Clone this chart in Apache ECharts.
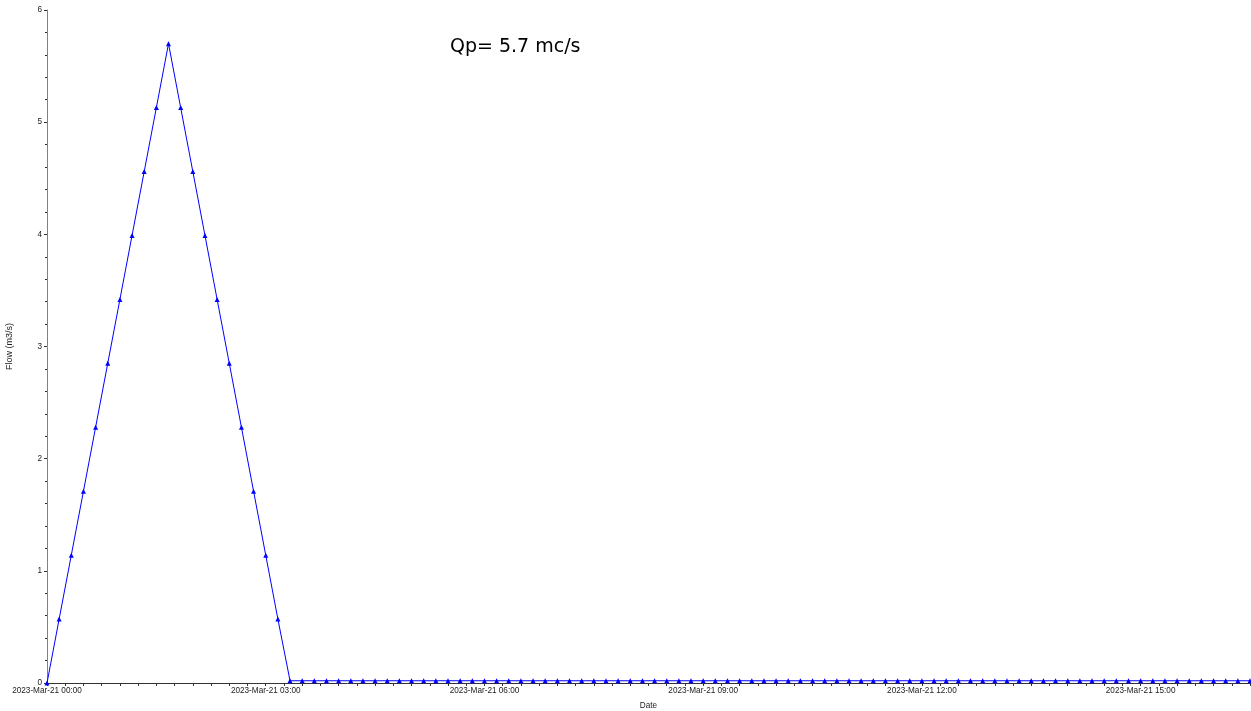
<!DOCTYPE html>
<html>
<head>
<meta charset="utf-8">
<script src="https://cdn.jsdelivr.net/npm/echarts@6/dist/echarts.min.js"></script>
<style>
  html, body { margin: 0; padding: 0; background: #ffffff; }
  #chart { width: 1251px; height: 711px; }
</style>
</head>
<body>
<div id="chart"></div>
<script>
// ---- data ----
const datePrefix = '2023-Mar-21';
const stepMinutes = 10;          // time step of the hydrograph
const axisMaxMinutes = 990;      // 16:30
const labelEveryMinutes = 180;   // 3 hours
const tickEveryMinutes = 15;
const flow = [
  0, 0.57, 1.14, 1.71, 2.28, 2.85, 3.42, 3.99, 4.56, 5.13,
  5.7, 5.13, 4.56, 3.99, 3.42, 2.85, 2.28, 1.71, 1.14, 0.57,
  0.02, 0.02, 0.02, 0.02, 0.02, 0.02, 0.02, 0.02, 0.02, 0.02,
  0.02, 0.02, 0.02, 0.02, 0.02, 0.02, 0.02, 0.02, 0.02, 0.02,
  0.02, 0.02, 0.02, 0.02, 0.02, 0.02, 0.02, 0.02, 0.02, 0.02,
  0.02, 0.02, 0.02, 0.02, 0.02, 0.02, 0.02, 0.02, 0.02, 0.02,
  0.02, 0.02, 0.02, 0.02, 0.02, 0.02, 0.02, 0.02, 0.02, 0.02,
  0.02, 0.02, 0.02, 0.02, 0.02, 0.02, 0.02, 0.02, 0.02, 0.02,
  0.02, 0.02, 0.02, 0.02, 0.02, 0.02, 0.02, 0.02, 0.02, 0.02,
  0.02, 0.02, 0.02, 0.02, 0.02, 0.02, 0.02, 0.02, 0.02, 0.02
];
const annotation = 'Qp= 5.7 mc/s';
const xName = 'Date';
const yName = 'Flow (m3/s)';

// ---- chart ----
const seriesData = flow.map((v, i) => [i * stepMinutes, v]);
function fmtTime(m) {
  const h = Math.floor(m / 60), mm = m % 60;
  return datePrefix + ' ' + String(h).padStart(2, '0') + ':' + String(mm).padStart(2, '0');
}
const chart = echarts.init(document.getElementById('chart'), null, { renderer: 'canvas' });
const labelFont = { fontFamily: 'Liberation Sans, Arial, sans-serif', fontSize: 8.2, color: '#222' };
const nameFont = { fontFamily: 'Liberation Sans, Arial, sans-serif', fontSize: 9, color: '#222' };
chart.setOption({
  animation: false,
  backgroundColor: '#ffffff',
  grid: { left: 47, right: 1, top: 10, bottom: 28, containLabel: false, outerBoundsMode: 'none' },
  xAxis: {
    type: 'value',
    min: 0, max: axisMaxMinutes, interval: tickEveryMinutes,
    name: xName, nameLocation: 'middle', nameGap: 19,
    nameTextStyle: { ...nameFont, fontSize: 8.2 },
    axisLine: { show: true, onZero: false, lineStyle: { color: '#333', width: 1 } },
    axisTick: { show: true, length: 3, lineStyle: { color: '#333' } },
    axisLabel: {
      ...labelFont, margin: 4,
      formatter: v => (v % labelEveryMinutes === 0 && v < axisMaxMinutes) ? fmtTime(v) : ''
    },
    splitLine: { show: false }
  },
  yAxis: {
    type: 'value',
    min: 0, max: 6, interval: 1,
    name: yName, nameLocation: 'middle', nameGap: 33, nameRotate: 90,
    nameTextStyle: nameFont,
    axisLine: { show: true, lineStyle: { color: '#808080', width: 1 } },
    axisTick: { show: true, length: 3, lineStyle: { color: '#333' } },
    minorTick: { show: true, splitNumber: 5, length: 2, lineStyle: { color: '#333' } },
    axisLabel: { ...labelFont, margin: 5 },
    splitLine: { show: false }
  },
  series: [{
    type: 'line',
    data: seriesData,
    symbol: 'triangle',
    symbolSize: 5,
    showAllSymbol: true,
    lineStyle: { color: '#0000ff', width: 1 },
    itemStyle: { color: '#0000ff' },
    clip: false
  }],
  graphic: [{
    type: 'text',
    left: 450, top: 38,
    style: { text: annotation, font: '19px "DejaVu Sans", Verdana, sans-serif', fill: '#000' }
  }]
});
</script>
</body>
</html>
